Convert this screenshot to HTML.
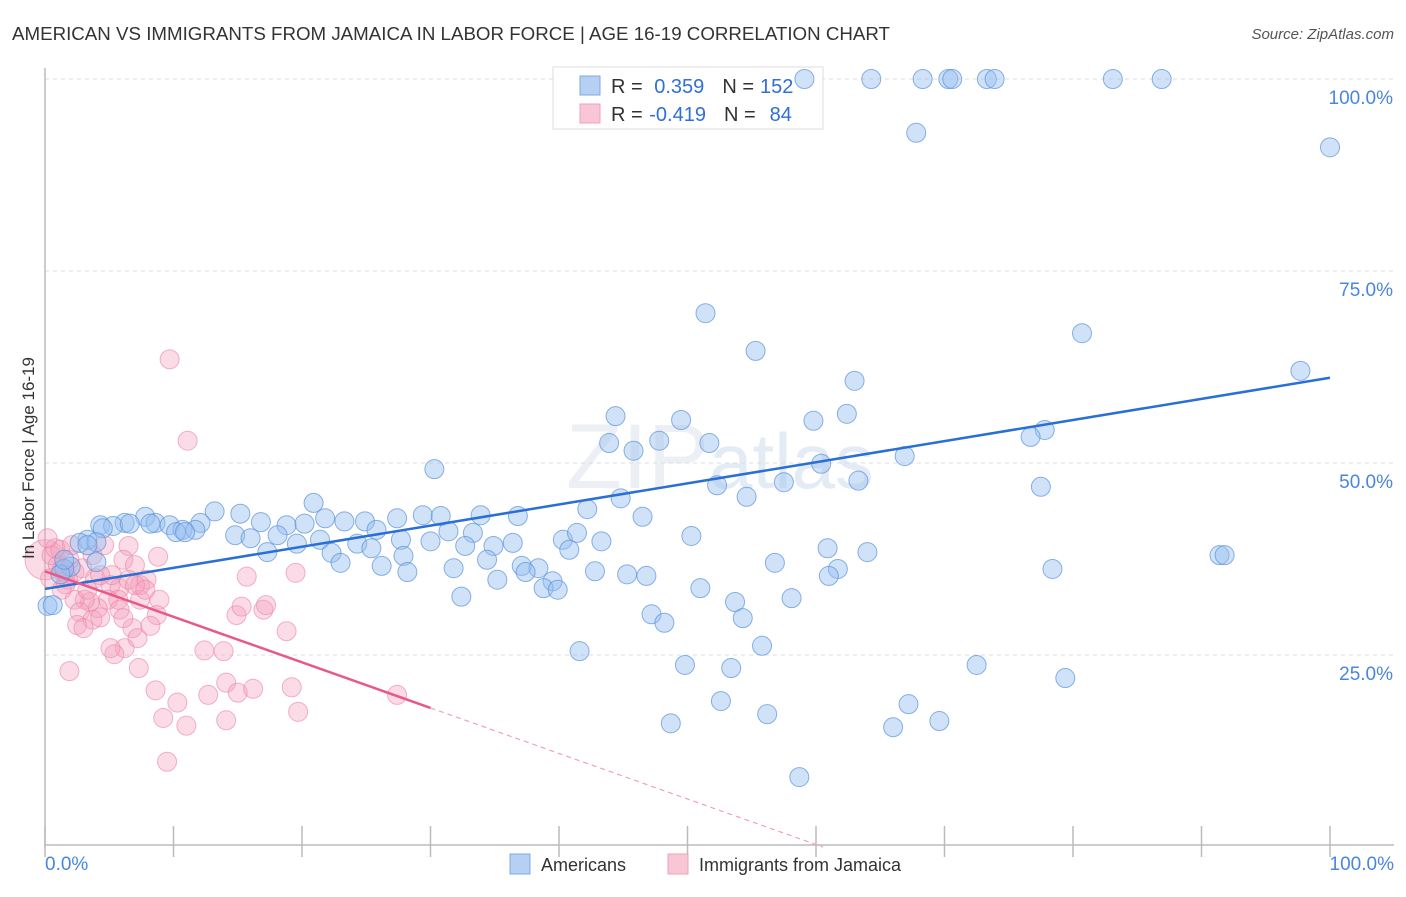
<!DOCTYPE html>
<html><head><meta charset="utf-8"><style>
body{margin:0;background:#fff;font-family:"Liberation Sans",sans-serif}
svg text{font-family:"Liberation Sans",sans-serif}
</style></head><body>
<svg id="chart" width="1406" height="892" viewBox="0 0 1406 892" xmlns="http://www.w3.org/2000/svg">
<text x="12" y="40" font-size="18" fill="#333" textLength="878" lengthAdjust="spacingAndGlyphs">AMERICAN VS IMMIGRANTS FROM JAMAICA IN LABOR FORCE | AGE 16-19 CORRELATION CHART</text>
<text x="1394" y="39" font-size="15" fill="#555" text-anchor="end" font-style="italic">Source: ZipAtlas.com</text>
<text x="720" y="488" font-size="92" fill="#eceff3" text-anchor="middle" font-family="Liberation Serif">ZIP<tspan font-family="Liberation Sans" font-size="78" fill="#e3ebf5">atlas</tspan></text>
<g id="grid"></g>
<g id="axes"></g>
<g>
<rect x="553" y="67" width="270" height="62" fill="#fff" stroke="#ddd"/>
<rect x="580" y="76" width="20" height="19" fill="#b5d0f3" stroke="#7ea8e4"/>
<rect x="580" y="104" width="20" height="19" fill="#f9c6d6" stroke="#f0a0b8"/>
<text x="611" y="93" font-size="20" fill="#333">R = <tspan fill="#2f6fd6" dx="6">0.359</tspan><tspan dx="18" fill="#333">N =</tspan><tspan dx="6" fill="#2f6fd6">152</tspan></text>
<text x="611" y="121" font-size="20" fill="#333">R = <tspan fill="#2f6fd6" dx="1">-0.419</tspan><tspan dx="18" fill="#333">N =</tspan><tspan dx="14" fill="#2f6fd6">84</tspan></text>
</g>
<g id="pts"></g>
<g id="trend"></g>
<text transform="translate(34,458) rotate(-90)" font-size="17" fill="#333" text-anchor="middle">In Labor Force | Age 16-19</text>
<g>
<rect x="510" y="854" width="20" height="20" fill="#b5d0f3" stroke="#7ea8e4"/>
<text x="541" y="871" font-size="18" fill="#333">Americans</text>
<rect x="668" y="854" width="20" height="20" fill="#f9c6d6" stroke="#f0a0b8"/>
<text x="699" y="871" font-size="18" fill="#333">Immigrants from Jamaica</text>
</g>
</svg>
<script>
const yTicks=[25,50,75,100];
const yTickLabels=["25.0%","50.0%","75.0%","100.0%"];
const xTicks=[0,10,20,30,40,50,60,70,80,90,100];
const blueX=[59.1,64.3,68.3,70.3,70.6,73.3,73.9,83.1,86.9,67.8,100,51.4,80.7,55.3,97.7,63.0,44.4,49.5,59.8,62.4,43.9,47.8,51.7,45.8,77.8,76.7,30.3,60.4,66.9,52.3,57.5,63.3,77.5,54.6,44.8,20.9,13.2,15.2,29.4,30.8,27.4,36.8,33.9,46.5,42.2,21.8,23.3,24.9,16.8,12.1,7.8,6.2,4.3,5.3,6.6,8.6,9.7,10.7,11.7,18.8,20.2,25.8,31.4,33.3,14.8,16.0,18.1,4.5,3.3,2.7,4.0,21.4,24.3,27.7,30.0,34.9,36.4,40.3,41.4,43.3,50.3,60.9,64.0,40.8,17.3,19.6,22.3,25.4,27.9,34.4,32.7,37.1,38.4,31.8,26.2,28.2,23.0,56.8,61.7,78.4,91.4,91.8,42.8,45.3,46.8,61.0,37.4,35.2,39.5,38.8,39.9,32.4,51.0,53.7,58.1,54.3,47.2,48.2,0.2,0.6,41.6,55.8,49.8,53.4,72.5,79.4,52.6,67.2,56.2,48.7,66.0,69.6,58.7,2.0,1.5,1.2,4.0,3.3,8.2,1.5,10.2,10.9];
const blueY=[100,100,100,100,100,100,100,100,100,93.0,91.1,69.5,66.9,64.6,62.0,60.7,56.1,55.6,55.5,56.4,52.6,52.9,52.6,51.6,54.3,53.4,49.2,49.9,50.9,47.1,47.5,47.7,46.9,45.6,45.4,44.8,43.7,43.4,43.2,43.1,42.8,43.1,43.2,43.0,44.0,42.8,42.4,42.4,42.3,42.2,43.0,42.2,41.9,41.8,42.1,42.2,41.9,41.3,41.3,41.9,42.1,41.3,41.1,40.9,40.6,40.2,40.6,41.5,40.0,39.6,39.7,40.0,39.5,40.0,39.8,39.2,39.6,40.0,40.9,39.8,40.5,38.9,38.4,38.7,38.4,39.5,38.3,38.9,37.9,37.4,39.2,36.6,36.3,36.3,36.6,35.8,37.0,37.0,36.2,36.2,38.0,38.0,35.9,35.5,35.3,35.3,35.8,34.8,34.6,33.7,33.5,32.6,33.7,31.9,32.4,29.8,30.3,29.2,31.4,31.5,25.5,26.2,23.7,23.3,23.7,22.0,19.0,18.6,17.3,16.1,15.6,16.4,9.1,36.5,36.2,35.5,37.1,39.3,42.1,37.4,41.0,41.0];
const pinkX=[0,0.5,1.0,1.3,1.6,1.9,1.2,2.3,2.9,1.8,0.4,1.6,3.7,4.6,6.5,6.1,8.8,7.0,3.9,5.1,5.8,6.5,7.4,7.9,5.7,4.9,4.1,3.5,3.1,2.3,2.7,3.7,5.8,7.4,8.9,8.7,6.8,6.1,2.5,3.0,4.3,6.2,5.4,5.1,7.2,8.2,7.3,1.9,9.7,11.1,15.7,19.5,14.9,15.3,17.0,17.2,18.8,12.4,13.9,14.1,12.7,15.0,16.2,19.2,8.6,10.3,9.2,11.0,14.1,19.7,9.5,27.4,7.0,7.8,5.2,4.3,3.3,0.8,0.2,2.1,1.3];
const pinkY=[37.4,38.0,36.7,36.1,35.4,37.4,38.7,35.8,36.3,34.8,35.0,34.2,38.0,39.3,39.2,37.4,37.8,36.7,35.0,34.1,33.7,34.8,34.1,34.8,32.2,32.2,31.1,31.9,32.2,32.2,30.6,29.6,30.9,32.2,32.2,30.2,28.5,29.8,28.9,28.5,29.9,25.9,25.1,25.9,27.2,28.8,23.3,22.9,63.5,52.9,35.2,35.7,30.2,31.3,30.9,31.5,28.1,25.6,25.5,21.4,19.8,20.1,20.6,20.8,20.4,18.8,16.8,15.8,16.5,17.6,11.1,19.8,34.1,33.5,35.4,35.4,33.5,38.9,40.2,39.3,33.5];
const blueTrend=[33.6,61.1];
const pinkTrend=[35.9,-0.593];
const NS="http://www.w3.org/2000/svg";
const X0=45,X1=1330,Y0=847,Y1=79;
function xs(v){return X0+(X1-X0)*v/100;}
function ys(v){return Y0-(Y0-Y1)*v/100;}
function mk(t,a,p){const e=document.createElementNS(NS,t);for(const k in a)e.setAttribute(k,a[k]);p.appendChild(e);return e;}
const grid=document.getElementById('grid');
yTicks.forEach((t,i)=>{
 const l=mk('line',{x1:X0,x2:1394,y1:ys(t),y2:ys(t),stroke:'#ddd','stroke-dasharray':'4,4'},grid);
 
 
 const tx=mk('text',{x:1393,y:ys(t)+25,'font-size':19,fill:'#4a86dd','text-anchor':'end'},grid);
 tx.textContent=yTickLabels[i];
 
 
});
const axes=document.getElementById('axes');
const ya=mk('line',{x1:X0,x2:X0,y1:68,y2:847,stroke:'#bbb','stroke-width':1.5},axes);


const xa=mk('line',{x1:X0,x2:1394,y1:845,y2:845,stroke:'#bbb','stroke-width':1.5},axes);


xTicks.forEach(t=>{
 const l=mk('line',{x1:xs(t),x2:xs(t),y1:826,y2:857,stroke:'#bbb','stroke-width':1.5},axes);
 
 
});
[[0,'0.0%','start',45],[100,'100.0%','end',1394]].forEach(a=>{
 const tx=mk('text',{x:a[3],y:870,'font-size':19,fill:'#4a86dd','text-anchor':a[2]},axes);
 tx.textContent=a[1];
 
 
});
const pts=document.getElementById('pts');
pinkX.forEach((v,i)=>{
 const c=mk('circle',{cx:xs(v),cy:ys(pinkY[i]),r:i===0?20:9.5,fill:'rgba(245,160,190,0.38)',stroke:'rgba(235,130,165,0.6)','stroke-width':1},pts);
 
 
});
blueX.forEach((v,i)=>{
 const c=mk('circle',{cx:xs(v),cy:ys(blueY[i]),r:9.5,fill:'rgba(150,190,240,0.45)',stroke:'rgba(90,145,220,0.7)','stroke-width':1},pts);
 
 
});
const tr=document.getElementById('trend');
const bl=mk('line',{x1:xs(0),y1:ys(blueTrend[0]),x2:xs(100),y2:ys(blueTrend[1]),stroke:'#2a6fd6','stroke-width':2.5},tr);


const pEnd=-pinkTrend[0]/pinkTrend[1];
const ps=mk('line',{x1:xs(0),y1:ys(pinkTrend[0]),x2:xs(30),y2:ys(pinkTrend[0]+pinkTrend[1]*30),stroke:'#e8588a','stroke-width':2.5},tr);


const pd=mk('line',{x1:xs(30),y1:ys(pinkTrend[0]+pinkTrend[1]*30),x2:xs(pEnd),y2:ys(0),stroke:'#f0a0b8','stroke-width':1.2,'stroke-dasharray':'5,4'},tr);


</script>
</body></html>
